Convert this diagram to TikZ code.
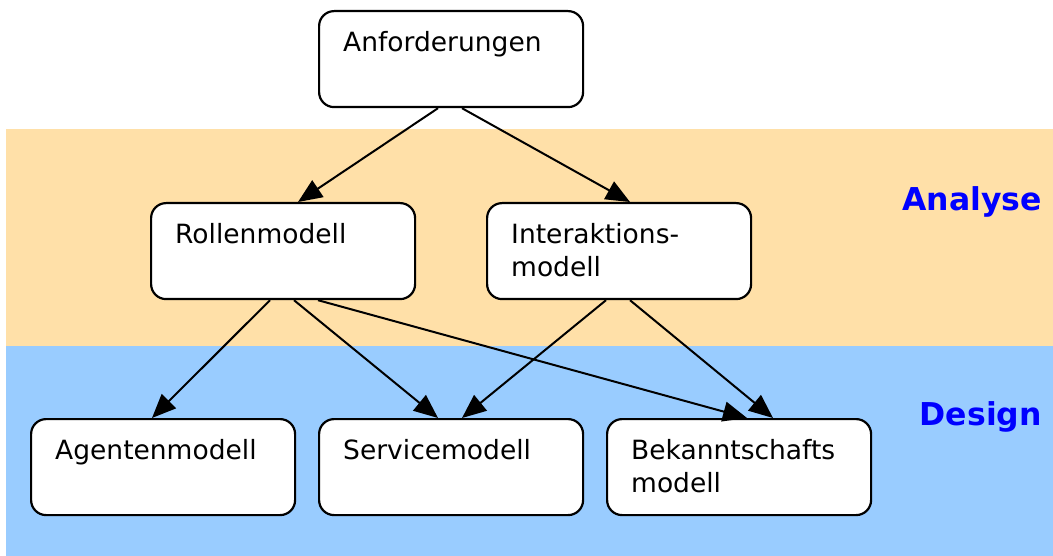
\documentclass[tikz,border=0pt]{standalone}
\usepackage{fontspec}
\setmainfont{DejaVu Sans}
\usetikzlibrary{calc,arrows.meta}
\definecolor{analysebg}{HTML}{FFE0A8}
\definecolor{designbg}{HTML}{99CCFF}
\definecolor{phaseblue}{HTML}{0000FF}
\tikzset{
  modelbox/.style={draw=black, line width=2.2pt, fill=white, rounded corners=15pt,
    minimum width=264pt, minimum height=96pt, inner sep=0pt, anchor=north west},
  boxtext/.style={anchor=north west, inner sep=0pt, align=left,
    font=\fontsize{26.5}{33}\selectfont},
  phase/.style={anchor=east, inner sep=0pt, text=phaseblue,
    font=\fontsize{31.5}{36}\selectfont\bfseries},
  flow/.style={line width=2pt, -{Triangle[length=24pt,width=20pt]}}
}
\begin{document}
\begin{tikzpicture}[x=1pt,y=-1pt]
  \useasboundingbox (0,0) rectangle (1053,556);
  % phase bands
  \fill[white] (0,0) rectangle (1053,556);
  \fill[analysebg] (6,129) rectangle (1053,346);
  \fill[designbg] (6,346) rectangle (1053,556);
  \node[phase] (analyse) at (1042,202) {Analyse};
  \node[phase] (design) at (1042,417) {Design};

  % model boxes
  \node[modelbox] (an) at (318,10) {};
  \node[modelbox] (ro) at (150,202) {};
  \node[modelbox] (in) at (486,202) {};
  \node[modelbox] (ag) at (30,418) {};
  \node[modelbox] (se) at (318,418) {};
  \node[modelbox] (be) at (606,418) {};

  % box labels
  \node[boxtext] (ant) at ($(an.north west)+(25,21)$) {Anforderungen};
  \node[boxtext] (rot) at ($(ro.north west)+(25,21)$) {Rollenmodell};
  \node[boxtext] (int) at ($(in.north west)+(25,21)$) {Interaktions-\\modell};
  \node[boxtext] (agt) at ($(ag.north west)+(25,21)$) {Agentenmodell};
  \node[boxtext] (set) at ($(se.north west)+(25,21)$) {Servicemodell};
  \node[boxtext] (bet) at ($(be.north west)+(25,21)$) {Bekanntschafts\\modell};

  % dependencies
  \draw[flow] ($(an.south west)+(120,0)$) -- ($(ro.north west)+(148,0)$);
  \draw[flow] ($(an.south west)+(144,0)$) -- ($(in.north west)+(144,0)$);
  \draw[flow] ($(ro.south west)+(120,0)$) -- ($(ag.north west)+(122,0)$);
  \draw[flow] ($(ro.south west)+(144,0)$) -- ($(se.north west)+(120,0)$);
  \draw[flow] ($(ro.south west)+(168,0)$) -- ($(be.north west)+(141,0)$);
  \draw[flow] ($(in.south west)+(120,0)$) -- ($(se.north west)+(144,0)$);
  \draw[flow] ($(in.south west)+(144,0)$) -- ($(be.north west)+(167,0)$);
\end{tikzpicture}
\end{document}
